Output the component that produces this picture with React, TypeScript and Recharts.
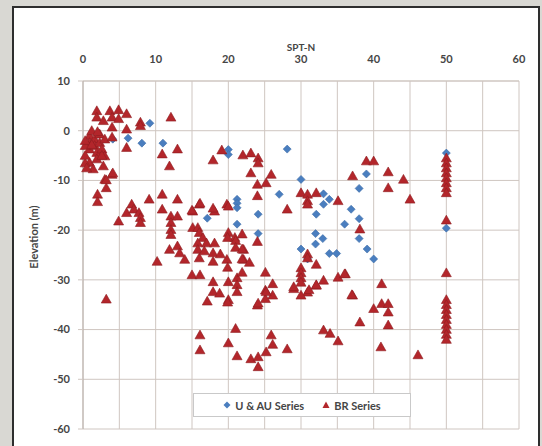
import { ScatterChart, Scatter, XAxis, YAxis, CartesianGrid } from 'recharts';

type Pt = [number, number];

// SPT-N vs elevation
const xTicks = [0, 5, 10, 15, 20, 25, 30, 35, 40, 45, 50, 55, 60];
const yTicks = [10, 0, -10, -20, -30, -40, -50, -60];

const uAuPoints: Pt[] = [
  [4.1, -1.7], [6.2, -1.5], [8.1, -2.5], [9.2, 1.5], [11.0, -2.5],
  [20.0, -3.8], [20.0, -4.8], [17.1, -17.6],
  [21.2, -13.8], [21.2, -14.6], [21.2, -15.5], [21.2, -18.8],
  [24.1, -16.8], [24.1, -20.7], [27.0, -12.8], [28.1, -3.7], [30.0, -9.8],
  [32.1, -16.8], [33.1, -12.7], [33.9, -13.8], [33.1, -14.8],
  [32.0, -20.7], [33.0, -21.7], [32.0, -22.8], [30.0, -23.8], [30.9, -25.8],
  [33.9, -24.7], [34.9, -24.7], [36.0, -18.8], [36.9, -15.8], [38.0, -17.7],
  [38.0, -11.6], [39.0, -8.7], [38.0, -21.7], [39.1, -23.8], [40.0, -25.8],
  [50, -4.5], [50, -19.6],
];

const brShallow: Pt[] = [
  [1.9, 4.0], [1.9, 2.7], [2.8, 2.0], [3.7, 4.0], [4.0, 2.7], [4.9, 4.2], [4.9, 2.4],
  [6.0, 3.4], [4.0, 0.7], [6.0, 0.3], [7.9, 1.7], [7.9, 1.0], [12.1, 2.7],
  [0.9, -1.0], [0.9, -2.4], [0.9, -3.7], [1.6, -1.7], [1.6, -3.0], [1.9, -4.4],
  [2.3, -0.7], [2.3, -2.4], [2.6, -3.7], [3.0, -1.7], [3.0, -5.1], [0.9, -6.4],
  [1.4, -7.7], [1.9, -5.7], [2.8, -7.1], [3.0, -9.8], [4.0, -8.8], [4.0, -1.3],
  [6.0, -3.4], [10.9, -4.7], [13.0, -3.7], [11.9, -7.1],
  [0.3, -6.5], [0.3, -5.0], [0.3, -3.0], [0.3, -2.0], [0.5, -7.5], [1.2, 0.0],
  [2.0, -0.2], [3.2, -11.5], [4.1, -8.5], [3.2, -9.9], [2.0, -12.8], [2.0, -14.3],
  [1.2, -2.8], [2.6, -5.0],
];

const brMiddle: Pt[] = [
  [4.9, -18.2], [6.0, -16.5], [6.7, -14.8], [7.0, -15.8], [7.7, -16.5], [7.9, -17.5],
  [7.9, -18.5], [9.1, -13.8], [10.9, -12.8], [13.0, -13.8], [10.9, -15.8],
  [12.1, -17.2], [12.1, -18.5], [12.1, -19.9], [12.1, -20.9], [13.0, -17.2],
  [15.1, -16.2], [16.0, -14.8], [18.1, -16.2], [19.8, -14.8],
  [15.1, -19.5], [15.8, -19.5], [16.0, -20.5], [16.5, -21.5], [17.0, -22.6],
  [15.8, -22.6], [15.8, -23.9], [18.1, -22.6], [17.9, -24.6], [20.0, -20.5],
  [20.9, -21.5], [22.1, -23.9], [11.9, -23.9], [13.0, -23.2], [13.3, -24.6],
  [14.0, -25.9], [10.2, -26.3], [16.0, -25.6], [16.7, -24.2], [17.9, -26.3],
  [19.8, -25.9], [22.1, -25.9],
  [15.0, -29.0], [16.1, -29.0], [17.9, -30.4], [17.9, -32.4], [18.8, -32.7],
  [20.0, -30.4], [20.0, -34.0], [21.2, -29.6], [21.2, -31.0], [21.2, -32.4],
  [17.1, -34.3], [3.2, -33.9],
  [17.9, -5.9], [19.1, -3.9], [22.0, -4.9], [23.1, -4.5], [24.1, -5.5],
  [24.1, -6.5], [23.1, -8.5], [25.2, -10.5], [24.0, -10.8], [25.9, -8.8],
  [24.0, -13.1], [20.0, -15.2], [17.9, -15.6], [16.1, -14.6], [15.0, -16.0],
];

const brDeep: Pt[] = [
  [30.0, -12.5], [30.9, -12.8], [30.9, -14.1], [30.9, -14.8], [32.1, -12.5],
  [35.1, -14.1], [28.1, -15.8], [39.0, -6.1], [40.0, -6.1], [37.1, -9.1],
  [42.0, -8.3], [44.1, -9.8], [42.0, -11.5], [45.0, -13.8], [38.1, -19.8],
  [19.9, -21.5], [21.0, -22.1], [21.0, -23.5], [21.9, -20.8], [24.0, -22.3],
  [21.9, -23.8], [18.9, -24.8], [19.9, -27.5], [21.9, -25.8], [22.9, -26.5],
  [30.9, -24.8], [30.9, -25.6], [32.1, -26.9], [25.1, -28.5], [30.0, -27.6],
  [30.0, -28.6], [30.0, -29.6], [30.0, -30.5], [35.1, -29.5], [36.1, -28.8],
  [33.1, -30.1], [32.1, -31.1], [30.9, -32.5], [30.0, -33.1], [29.0, -31.8],
  [26.1, -30.8], [26.1, -33.1], [25.1, -32.1], [25.1, -33.8], [24.0, -35.1],
  [19.9, -34.5], [21.9, -28.5], [41.1, -30.8], [37.1, -33.1], [40.0, -35.8],
  [41.1, -34.8], [42.0, -34.8], [42.0, -36.5], [38.1, -38.5], [42.0, -39.1],
  [33.1, -40.1], [34.0, -40.8], [35.1, -42.3], [25.9, -41.1], [21.0, -39.8],
  [16.1, -41.1], [16.1, -44.1], [20.0, -42.7], [21.2, -45.3], [23.1, -45.9],
  [24.1, -45.5], [24.1, -47.5], [25.2, -44.5], [24.1, -34.7], [25.2, -32.4],
  [26.1, -43.0], [28.1, -43.9], [41.0, -43.5], [46.1, -45.1], [29.0, -31.4],
  [31.1, -32.0], [32.1, -31.0], [36.0, -28.8], [37.0, -33.0],
];

const brRefusal: Pt[] = [
  [50, -5.5], [50, -6.5], [50, -7.5], [50, -8.5], [50, -9.5], [50, -10.5],
  [50, -11.5], [50, -12.5], [50, -18.0], [50, -28.6], [50, -34], [50, -35],
  [50, -36], [50, -37], [50, -38], [50, -39], [50, -40], [50, -41], [50, -42],
];

const toData = (pts: Pt[]) => pts.map(([x, y]) => ({ x, y }));
const uAuData = toData(uAuPoints);
const brData = toData([...brShallow, ...brMiddle, ...brDeep, ...brRefusal]);

const BLUE = '#4a7ebf';
const RED = '#b3262b';
const GRID = '#cfc6c1';
const FONT = 'Lato, "Open Sans", sans-serif';

const Diamond = (props: any) => {
  const { cx, cy } = props;
  if (cx == null || cy == null) return null;
  return (
    <polygon
      points={`${cx},${cy - 4} ${cx + 4},${cy} ${cx},${cy + 4} ${cx - 4},${cy}`}
      fill={BLUE}
      stroke="#3d6ca6"
      strokeWidth={0.6}
    />
  );
};

const Triangle = (props: any) => {
  const { cx, cy } = props;
  if (cx == null || cy == null) return null;
  return (
    <polygon
      points={`${cx},${cy - 5} ${cx + 5},${cy + 3.8} ${cx - 5},${cy + 3.8}`}
      fill={RED}
      stroke="#8e1d20"
      strokeWidth={0.6}
    />
  );
};

const tickStyle = { fontSize: 11, fill: '#454545', fontFamily: FONT, fontWeight: 700 };

export default function App() {
  return (
    <div style={{ position: 'absolute', left: 0, top: 0, width: 542, height: 446, background: '#d9d8d3', overflow: 'hidden' }}>
      {/* white panel with dark frame */}
      <div
        style={{
          position: 'absolute',
          left: 12,
          top: 6,
          width: 528,
          height: 460,
          boxSizing: 'border-box',
          border: '2px solid #2e2e2e',
          background: '#ffffff',
        }}
      />

      <div style={{ position: 'absolute', left: 0, top: 0 }}>
        <ScatterChart width={542} height={446} margin={{ top: 51, right: 23, bottom: 17, left: 43 }}>
          <CartesianGrid stroke={GRID} strokeWidth={1} />
          <XAxis
            type="number"
            dataKey="x"
            orientation="top"
            domain={[0, 60]}
            ticks={xTicks}
            height={30}
            tickLine={false}
            tickSize={6}
            tickMargin={12}
            axisLine={{ stroke: GRID }}
            tick={tickStyle}
            tickFormatter={(v: number) => (v % 10 === 0 ? String(v) : '')}
            interval={0}
          />
          <YAxis
            type="number"
            dataKey="y"
            domain={[-60, 10]}
            ticks={yTicks}
            width={40}
            tickSize={5}
            tickMargin={8}
            tickLine={{ stroke: GRID }}
            axisLine={{ stroke: '#b8afaa' }}
            tick={tickStyle}
            interval={0}
          />
          <Scatter name="U & AU Series" data={uAuData} shape={Diamond} isAnimationActive={false} />
          <Scatter name="BR Series" data={brData} shape={Triangle} isAnimationActive={false} />
        </ScatterChart>
      </div>

      {/* axis titles */}
      <div
        style={{
          position: 'absolute',
          left: 271,
          top: 41,
          width: 60,
          textAlign: 'center',
          fontFamily: FONT,
          fontSize: 10,
          fontWeight: 700,
          color: '#454545',
        }}
      >
        SPT-N
      </div>
      <div
        style={{
          position: 'absolute',
          left: 33,
          top: 237,
          transform: 'translate(-50%, -50%) rotate(-90deg)',
          whiteSpace: 'nowrap',
          fontFamily: FONT,
          fontSize: 11,
          fontWeight: 700,
          color: '#454545',
        }}
      >
        Elevation (m)
      </div>

      {/* legend */}
      <div
        style={{
          position: 'absolute',
          left: 193,
          top: 393,
          width: 218,
          height: 24,
          boxSizing: 'border-box',
          border: '1px solid #c9c9c9',
          background: '#ffffff',
          display: 'flex',
          alignItems: 'center',
          justifyContent: 'center',
          gap: 18,
          fontFamily: FONT,
          fontSize: 11,
          fontWeight: 700,
          color: '#454545',
        }}
      >
        <span style={{ display: 'flex', alignItems: 'center', gap: 4 }}>
          <svg width={8} height={8}>
            <polygon points="4,0.5 7.5,4 4,7.5 0.5,4" fill={BLUE} />
          </svg>
          U &amp; AU Series
        </span>
        <span style={{ display: 'flex', alignItems: 'center', gap: 4 }}>
          <svg width={8} height={8}>
            <polygon points="4,0.5 7.5,7 0.5,7" fill={RED} />
          </svg>
          BR Series
        </span>
      </div>
    </div>
  );
}
